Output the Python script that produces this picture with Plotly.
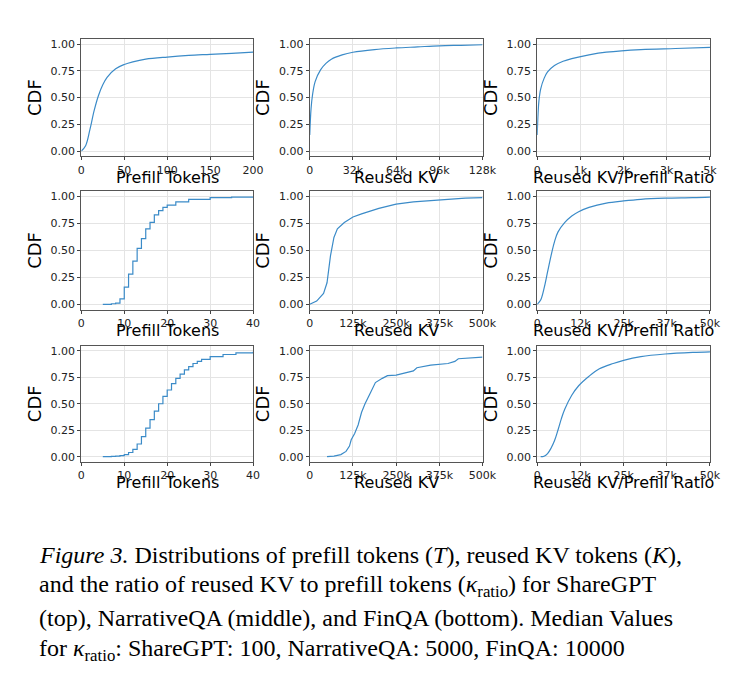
import plotly.graph_objects as go
from plotly.subplots import make_subplots

# ShareGPT (top row)
sg_tok_x = [0, 5, 10, 15, 20, 25, 30, 40, 50, 60, 75, 100, 125, 150, 175, 200]
sg_tok_y = [0, 0.05, 0.2, 0.38, 0.52, 0.62, 0.69, 0.77, 0.81, 0.835, 0.86, 0.88, 0.895, 0.905, 0.915, 0.925]
sg_kv_x = [0, 1000, 2000, 4000, 8000, 12000, 16000, 24000, 32000, 48000, 64000, 80000, 96000, 112000, 128000]
sg_kv_y = [0.15, 0.4, 0.52, 0.65, 0.76, 0.82, 0.86, 0.9, 0.925, 0.95, 0.965, 0.975, 0.985, 0.99, 0.995]
sg_ratio_x = [0, 25, 50, 100, 200, 300, 500, 750, 1000, 1500, 2000, 3000, 4000, 5000]
sg_ratio_y = [0.15, 0.35, 0.47, 0.58, 0.68, 0.74, 0.8, 0.84, 0.865, 0.9, 0.925, 0.95, 0.96, 0.97]

# NarrativeQA (middle row)
nq_tok_x = [5, 6, 7, 8, 9, 10, 11, 12, 13, 14, 15, 16, 17, 18, 19, 20, 22, 25, 30, 35, 40]
nq_tok_y = [0, 0, 0.005, 0.01, 0.05, 0.16, 0.28, 0.4, 0.52, 0.61, 0.7, 0.76, 0.83, 0.87, 0.9, 0.92, 0.95, 0.975, 0.99, 0.995, 1.0]
nq_kv_x = [0, 20000, 40000, 50000, 60000, 70000, 80000, 100000, 125000, 150000, 200000, 250000, 300000, 375000, 450000, 500000]
nq_kv_y = [0, 0.03, 0.1, 0.2, 0.45, 0.62, 0.7, 0.76, 0.81, 0.84, 0.89, 0.93, 0.95, 0.97, 0.985, 0.99]
nq_ratio_x = [0, 1000, 2000, 3000, 4000, 5000, 6000, 8000, 10000, 12000, 15000, 20000, 25000, 30000, 37000, 45000, 50000]
nq_ratio_y = [0, 0.04, 0.15, 0.3, 0.45, 0.58, 0.67, 0.76, 0.82, 0.86, 0.9, 0.94, 0.96, 0.975, 0.985, 0.99, 0.995]

# FinQA (bottom row)
fq_tok_x = [5, 7, 8, 9, 10, 11, 12, 13, 14, 15, 16, 17, 18, 19, 20, 21, 22, 23, 24, 25, 26, 27, 28, 30, 33, 36, 40]
fq_tok_y = [0, 0.003, 0.005, 0.01, 0.02, 0.04, 0.07, 0.12, 0.19, 0.27, 0.35, 0.43, 0.5, 0.57, 0.63, 0.69, 0.74, 0.78, 0.82, 0.85, 0.88, 0.9, 0.92, 0.945, 0.965, 0.98, 0.99]
fq_kv_x = [50000, 70000, 90000, 105000, 115000, 120000, 130000, 140000, 150000, 160000, 175000, 190000, 210000, 225000, 250000, 275000, 300000, 310000, 350000, 400000, 420000, 430000, 500000]
fq_kv_y = [0, 0.005, 0.02, 0.05, 0.1, 0.16, 0.22, 0.3, 0.42, 0.5, 0.6, 0.7, 0.74, 0.765, 0.77, 0.79, 0.81, 0.84, 0.865, 0.88, 0.9, 0.925, 0.94]
fq_ratio_x = [1000, 2000, 3000, 4000, 5000, 6000, 7000, 8000, 10000, 12000, 15000, 18000, 22000, 25000, 30000, 37000, 45000, 50000]
fq_ratio_y = [0, 0.005, 0.03, 0.08, 0.15, 0.25, 0.36, 0.45, 0.58, 0.67, 0.76, 0.83, 0.88, 0.91, 0.945, 0.97, 0.985, 0.99]

xtitles = ["Prefill Tokens", "Reused KV", "Reused KV/Prefill Ratio"]

panels = [
    [(sg_tok_x, sg_tok_y, "spline", [0, 200], [0, 50, 100, 150, 200], ["0", "50", "100", "150", "200"]),
     (sg_kv_x, sg_kv_y, "spline", [0, 128000], [0, 32000, 64000, 96000, 128000], ["0", "32k", "64k", "96k", "128k"]),
     (sg_ratio_x, sg_ratio_y, "spline", [0, 5000], [0, 1250, 2500, 3750, 5000], ["0", "1k", "2k", "3k", "5k"])],
    [(nq_tok_x, nq_tok_y, "hv", [0, 40], [0, 10, 20, 30, 40], ["0", "10", "20", "30", "40"]),
     (nq_kv_x, nq_kv_y, "linear", [0, 500000], [0, 125000, 250000, 375000, 500000], ["0", "125k", "250k", "375k", "500k"]),
     (nq_ratio_x, nq_ratio_y, "spline", [0, 50000], [0, 12500, 25000, 37500, 50000], ["0", "12k", "25k", "37k", "50k"])],
    [(fq_tok_x, fq_tok_y, "hv", [0, 40], [0, 10, 20, 30, 40], ["0", "10", "20", "30", "40"]),
     (fq_kv_x, fq_kv_y, "linear", [0, 500000], [0, 125000, 250000, 375000, 500000], ["0", "125k", "250k", "375k", "500k"]),
     (fq_ratio_x, fq_ratio_y, "spline", [0, 50000], [0, 12500, 25000, 37500, 50000], ["0", "12k", "25k", "37k", "50k"])],
]

W, H = 756, 685
col_px = [(71, 247), (305, 482), (538, 715)]
row_px = [(30, 148), (183, 302), (338, 455)]

fig = make_subplots(rows=3, cols=3)
for r in range(3):
    for c in range(3):
        x, y, shape, xr, tv, tt = panels[r][c]
        fig.add_trace(go.Scatter(x=x, y=y, mode="lines", line=dict(color="#3b8bc8", width=1.2, shape=shape),
                                 showlegend=False), row=r + 1, col=c + 1)
        fig.update_xaxes(range=xr, tickvals=tv, ticktext=tt,
                         domain=[col_px[c][0] / W, col_px[c][1] / W],
                         row=r + 1, col=c + 1)
        fig.update_yaxes(range=[-0.05, 1.05], tickvals=[0, 0.25, 0.5, 0.75, 1.0],
                         ticktext=["0.00", "0.25", "0.50", "0.75", "1.00"],
                         domain=[1 - row_px[r][1] / H, 1 - row_px[r][0] / H],
                         title=dict(text="CDF", font=dict(size=18, color="black"), standoff=4),
                         row=r + 1, col=c + 1)
        fig.add_annotation(text=xtitles[c], x=(col_px[c][0] + col_px[c][1]) / 2 / W,
                           y=1 - (row_px[r][1] + 21) / H, xref="paper", yref="paper",
                           xanchor="center", yanchor="middle", showarrow=False,
                           font=dict(size=16, color="black"))

fig.update_xaxes(showline=True, mirror=True, linecolor="#555", linewidth=1, ticks="outside", ticklen=3,
                 showgrid=True, gridcolor="#e4e4e4", zeroline=False, tickfont=dict(size=11, color="#222"))
fig.update_yaxes(showline=True, mirror=True, linecolor="#555", linewidth=1, ticks="outside", ticklen=3,
                 showgrid=True, gridcolor="#e4e4e4", zeroline=False, tickfont=dict(size=11, color="#222"))

caption = [
    "<i>Figure 3.</i> Distributions of prefill tokens (<i>T</i>), reused KV tokens (<i>K</i>),",
    "and the ratio of reused KV to prefill tokens (<i>κ</i><sub>ratio</sub>) for ShareGPT",
    "(top), NarrativeQA (middle), and FinQA (bottom). Median Values",
    "for <i>κ</i><sub>ratio</sub>: ShareGPT: 100, NarrativeQA: 5000, FinQA: 10000",
]
for i, line in enumerate(caption):
    fig.add_annotation(text=line, x=26 / W, y=1 - (548 + 32 * i) / H, xref="paper", yref="paper",
                       xanchor="left", yanchor="middle", showarrow=False,
                       font=dict(family="Liberation Serif", size=24, color="black"))

fig.update_layout(width=W, height=H, margin=dict(l=0, r=0, t=0, b=0),
                  plot_bgcolor="white", paper_bgcolor="white",
                  font=dict(family="DejaVu Sans"))
fig.write_html("out.html")
